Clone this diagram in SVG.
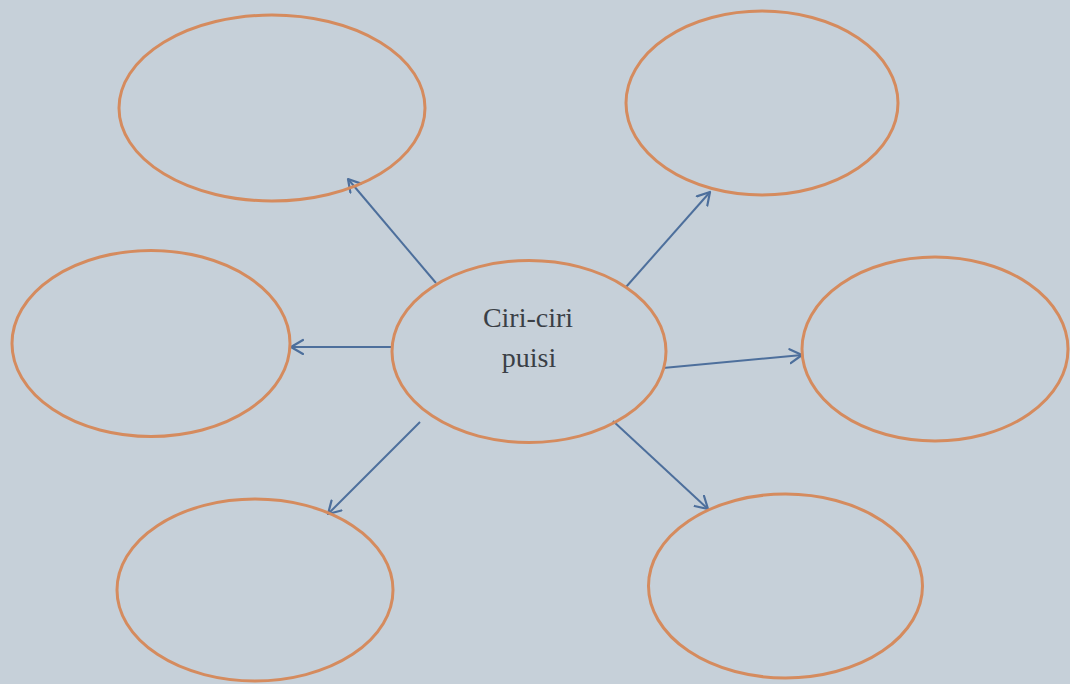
<svg xmlns="http://www.w3.org/2000/svg" width="1070" height="684" viewBox="0 0 1070 684">
  <defs>
    <style>
      .bg { fill: #c6d0d9; }
      .node ellipse { fill: none; stroke: #d58b5e; stroke-width: 3; }
      .conn line { stroke: #4d6f9c; stroke-width: 2; marker-end: url(#arrow); }
      .label { font-family: "Liberation Serif", "Times New Roman", serif; font-size: 28px; fill: #3a3f46; text-anchor: middle; }
    </style>
    <marker id="arrow" markerUnits="userSpaceOnUse" markerWidth="20" markerHeight="20" refX="13" refY="8" orient="auto">
      <path d="M1,1 L13,8 L1,15" fill="none" stroke="#4d6f9c" stroke-width="2.2" stroke-linecap="round" stroke-linejoin="round"/>
    </marker>
  </defs>
  <rect class="bg" x="0" y="0" width="1070" height="684"/>

  <g id="connectors" class="conn">
    <line x1="436" y1="283" x2="348" y2="179"/>
    <line x1="626" y1="287" x2="710" y2="192"/>
    <line x1="392" y1="347" x2="291" y2="347"/>
    <line x1="663" y1="368" x2="802" y2="355"/>
    <line x1="420" y1="422" x2="328" y2="514"/>
    <line x1="613" y1="421" x2="708" y2="509"/>
  </g>

  <g id="node-center" class="node">
    <ellipse cx="529" cy="351.5" rx="137" ry="91"/>
    <text class="label" x="528" y="327">Ciri-ciri</text>
    <text class="label" x="529" y="367">puisi</text>
  </g>
  <g id="node-top-left" class="node">
    <ellipse cx="272" cy="108" rx="153" ry="93"/>
  </g>
  <g id="node-top-right" class="node">
    <ellipse cx="762" cy="103" rx="136" ry="92"/>
  </g>
  <g id="node-mid-left" class="node">
    <ellipse cx="151" cy="343.5" rx="139" ry="93"/>
  </g>
  <g id="node-mid-right" class="node">
    <ellipse cx="935" cy="349" rx="133" ry="92"/>
  </g>
  <g id="node-bottom-left" class="node">
    <ellipse cx="255" cy="590" rx="138" ry="91"/>
  </g>
  <g id="node-bottom-right" class="node">
    <ellipse cx="785.5" cy="586" rx="137" ry="92"/>
  </g>
</svg>
